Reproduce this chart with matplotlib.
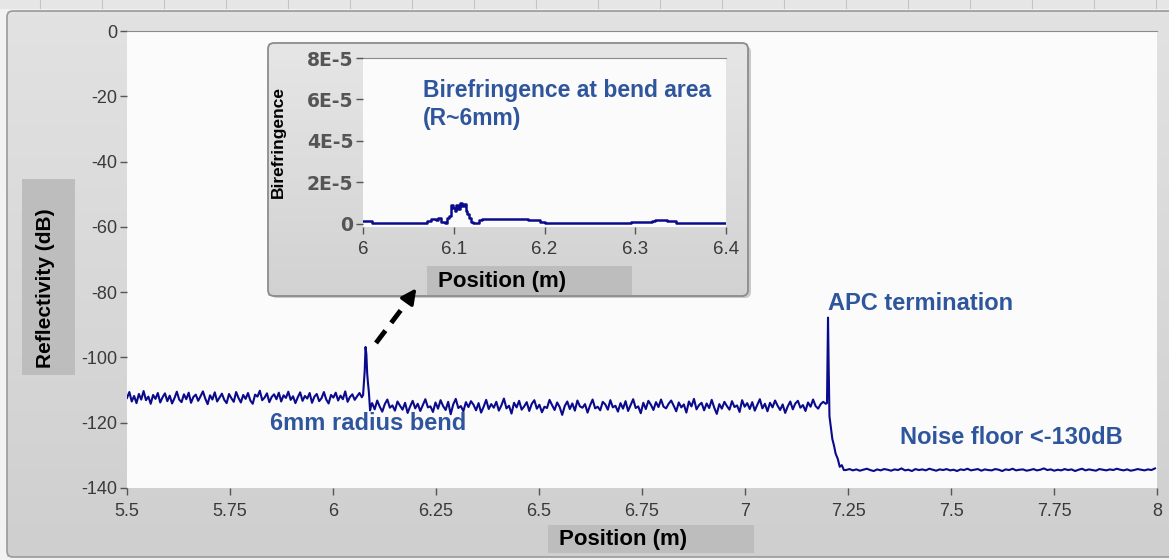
import numpy as np
import matplotlib
matplotlib.use("Agg")
import matplotlib.pyplot as plt
from matplotlib.patches import FancyBboxPatch, Rectangle
from matplotlib import font_manager

# ---- data ---------------------------------------------------------------
# main reflectivity trace (dB), pieced together by region
seg1_x = np.linspace(5.5, 6.07, 100)
seg1_y = [-112.4, -110.6, -113.5, -111.8, -114.0, -111.2, -112.9, -110.3, -113.1, -112.0,
          -114.2, -111.5, -112.7, -110.9, -113.8, -112.2, -111.0, -113.4, -111.7, -114.1,
          -112.5, -110.5, -112.9, -113.7, -111.3, -112.8, -110.8, -113.9, -112.1, -111.4,
          -113.3, -111.9, -110.4, -112.6, -114.3, -111.6, -112.9, -110.7, -113.5, -112.3,
          -111.1, -113.0, -114.0, -111.2, -112.5, -113.6, -110.6, -112.4, -113.8, -111.5,
          -112.7, -110.9, -113.2, -114.2, -111.4, -112.0, -110.2, -113.1, -112.3, -111.0,
          -113.7, -112.1, -111.3, -112.8, -110.8, -113.5, -111.6, -112.4, -110.5, -113.0,
          -111.9, -114.0, -112.2, -110.7, -113.3, -111.8, -112.6, -110.9, -113.9, -112.0,
          -111.2, -113.4, -112.5, -110.6, -112.9, -114.1, -111.5, -112.3, -110.8, -113.2,
          -111.7, -112.8, -110.4, -113.6, -112.1, -111.3, -113.0, -111.9, -110.9, -112.2]

bend_x = [6.073, 6.077, 6.079, 6.081, 6.083, 6.085, 6.087, 6.090, 6.093]
bend_y = [-111.5, -104.0, -96.8, -99.0, -105.0, -108.0, -110.5, -116.2, -114.5]

seg2_x = np.linspace(6.095, 7.196, 180)
seg2_y = [-114.0, -115.9, -113.2, -115.1, -116.6, -114.3, -112.9, -115.4, -114.7, -116.3,
          -113.5, -114.8, -116.0, -113.9, -117.0, -115.0, -113.3, -115.6, -114.2, -116.4,
          -114.6, -112.8, -115.3, -115.0, -116.7, -113.8, -115.7, -113.1, -114.9, -116.1,
          -113.6, -117.4, -114.4, -112.7, -115.5, -114.9, -116.5, -113.7, -115.2, -113.4,
          -114.5, -116.2, -114.0, -116.9, -115.1, -113.0, -115.8, -114.3, -115.4, -113.6,
          -116.3, -114.7, -112.6, -115.6, -114.8, -117.2, -113.9, -115.3, -113.3, -116.0,
          -115.0, -113.7, -116.4, -114.2, -113.1, -115.7, -114.5, -116.8, -115.1, -115.5,
          -113.0, -114.6, -116.1, -113.8, -115.2, -117.6, -114.9, -113.5, -115.8, -114.1,
          -116.3, -113.2, -115.0, -115.4, -114.3, -116.9, -114.7, -112.9, -115.6, -115.1,
          -116.2, -113.6, -114.4, -116.0, -113.1, -115.3, -114.8, -116.6, -114.0, -115.7,
          -113.4, -116.4, -114.6, -112.8, -115.5, -115.0, -117.1, -113.9, -115.8, -113.3,
          -114.5, -116.1, -113.7, -115.2, -112.9, -115.1, -115.6, -114.2, -113.2, -114.8,
          -116.5, -113.8, -115.3, -114.4, -116.9, -113.5, -115.0, -112.7, -115.9, -114.6,
          -113.9, -116.2, -114.1, -115.5, -113.0, -115.4, -117.3, -114.3, -115.7, -113.6,
          -114.9, -116.0, -113.4, -115.2, -114.7, -116.7, -113.1, -115.1, -114.0, -115.8,
          -113.7, -116.3, -114.5, -112.8, -115.6, -114.2, -116.5, -113.9, -115.3, -113.2,
          -114.8, -116.1, -114.4, -117.0, -115.0, -113.5, -115.9, -114.1, -113.3, -115.4,
          -114.6, -116.4, -113.8, -115.1, -112.9, -114.9, -115.7, -114.3, -113.6, -114.2]

apc_x = [7.199, 7.2015, 7.203, 7.205, 7.208, 7.212, 7.216, 7.220, 7.225, 7.230, 7.235, 7.240]
apc_y = [-114.0, -87.8, -102.0, -118.0, -121.0, -125.0, -127.0, -129.5, -131.0, -133.5, -133.0, -134.5]

seg3_x = np.linspace(7.245, 7.995, 90)
seg3_y = [-134.5, -134.2, -134.6, -134.3, -134.7, -134.4, -134.1, -134.5, -134.8, -134.3,
          -134.6, -134.2, -134.4, -134.7, -134.3, -134.5, -134.0, -134.6, -134.4, -134.8,
          -134.2, -134.5, -134.3, -134.6, -134.1, -134.4, -134.7, -134.3, -134.5, -134.2,
          -134.6, -134.4, -134.8, -134.3, -134.5, -134.1, -134.6, -134.4, -134.2, -134.7,
          -134.3, -134.5, -134.6, -134.2, -134.4, -134.8, -134.3, -134.5, -134.1, -134.6,
          -134.4, -134.3, -134.7, -134.5, -134.2, -134.6, -134.4, -134.0, -134.5, -134.3,
          -134.7, -134.4, -134.6, -134.2, -134.5, -134.3, -134.8, -134.4, -134.1, -134.6,
          -134.3, -134.5, -134.7, -134.2, -134.4, -134.6, -134.3, -134.5, -134.1, -134.4,
          -134.6, -134.3, -134.7, -134.5, -134.2, -134.4, -134.6, -134.3, -134.5, -134.0]

main_xticks = [5.5, 5.75, 6, 6.25, 6.5, 6.75, 7, 7.25, 7.5, 7.75, 8]
main_xlabels = ["5.5", "5.75", "6", "6.25", "6.5", "6.75", "7", "7.25", "7.5", "7.75", "8"]
main_yticks = [0, -20, -40, -60, -80, -100, -120, -140]

# inset birefringence trace (units of 1e-5)
bire_x = [6.000, 6.003, 6.010, 6.040, 6.065, 6.070, 6.075, 6.080, 6.083, 6.086, 6.090,
          6.093, 6.095, 6.097, 6.099, 6.101, 6.103, 6.105, 6.107, 6.109, 6.111, 6.113,
          6.115, 6.117, 6.119, 6.121, 6.125, 6.128, 6.131, 6.150, 6.175, 6.182, 6.190,
          6.195, 6.200, 6.250, 6.290, 6.295, 6.300, 6.318, 6.322, 6.330, 6.335, 6.345,
          6.370, 6.400]
bire_y = [0.15, 0.15, 0.05, 0.05, 0.05, 0.15, 0.25, 0.2, 0.3, 0.1, 0.05,
          0.3, 0.4, 0.9, 0.75, 0.6, 0.9, 0.7, 1.0, 0.85, 0.95, 0.6,
          0.5, 0.3, 0.1, 0.05, 0.05, 0.2, 0.25, 0.25, 0.25, 0.2, 0.18,
          0.1, 0.02, 0.02, 0.02, 0.1, 0.1, 0.12, 0.2, 0.18, 0.12, 0.05,
          0.02, 0.02]
inset_xticks = [6, 6.1, 6.2, 6.3, 6.4]
inset_xlabels = ["6", "6.1", "6.2", "6.3", "6.4"]
inset_yticks = [0, 2, 4, 6, 8]
inset_ylabels = ["0", "2E-5", "4E-5", "6E-5", "8E-5"]

# ---- style ----------------------------------------------------------------
W, H = 1169, 560
LINE = "#0a0a8c"
NOTE = "#2f569c"
TICK = "#3a3a3a"
names = {f.name for f in font_manager.fontManager.ttflist}
SANS = "Liberation Sans" if "Liberation Sans" in names else "DejaVu Sans"
plt.rcParams["font.family"] = [SANS, "DejaVu Sans"]
plt.rcParams["axes.unicode_minus"] = False


def px_axes(fig, x0, y0, x1, y1, **kw):
    return fig.add_axes([x0 / W, 1 - y1 / H, (x1 - x0) / W, (y1 - y0) / H], **kw)


fig = plt.figure(figsize=(W / 100, H / 100), dpi=100)
fig.patch.set_facecolor("#f2f2f2")

# background panel in pixel coordinates
bg = fig.add_axes([0, 0, 1, 1], zorder=0)
bg.set_xlim(0, W)
bg.set_ylim(H, 0)
bg.axis("off")
bg.add_patch(Rectangle((0, 0), W, 9, color="#e6e6e6", lw=0))
for tx in range(40, W, 62):
    bg.plot([tx, tx], [0, 8], color="#c4c4c4", lw=0.8)
grad = np.linspace(0, 1, 100).reshape(-1, 1)
bg.imshow(grad, cmap=matplotlib.colors.LinearSegmentedColormap.from_list("g", ["#e2e2e2", "#cfcfcf"]),
          extent=(7, 1169, 557, 11), aspect="auto", zorder=1)
bg.add_patch(FancyBboxPatch((7, 11), 1170, 546, boxstyle="round,pad=0,rounding_size=6",
                            fc="none", ec="#9a9a9a", lw=1.2, zorder=2))
bg.add_patch(Rectangle((22, 179), 53, 196, color="#bdbdbd", lw=0, zorder=3))
bg.text(46, 288, "Reflectivity (dB)", rotation=90, ha="center", va="center",
        fontsize=15, fontweight="bold", color="black", zorder=4)
bg.add_patch(Rectangle((548, 525), 206, 28, color="#bdbdbd", lw=0, zorder=3))
bg.text(559, 540, "Position (m)", ha="left", va="center",
        fontsize=16, fontweight="bold", color="black", zorder=4)

# main reflectivity plot
ax = px_axes(fig, 127, 31, 1157, 488, zorder=1)
ax.set_facecolor("#fbfbfb")
x_all = np.concatenate([seg1_x, bend_x, seg2_x, apc_x, seg3_x])
y_all = np.concatenate([seg1_y, bend_y, seg2_y, apc_y, seg3_y])
ax.plot(x_all, y_all, color=LINE, lw=1.5)
ax.set_xlim(5.5, 8)
ax.set_ylim(-140, 0)
ax.set_xticks(main_xticks)
ax.set_xticklabels(main_xlabels)
ax.set_yticks(main_yticks)
ax.tick_params(axis="both", colors="#555555", labelcolor=TICK, labelsize=13,
               length=5, width=1, direction="out", pad=2)
ax.tick_params(axis="x", pad=6)
for s in ["left", "bottom", "right"]:
    ax.spines[s].set_visible(False)
ax.spines["top"].set_color("#8a8a8a")

# overlay for the inset frame, notes and arrow
ov = fig.add_axes([0, 0, 1, 1], zorder=2)
ov.set_xlim(0, W)
ov.set_ylim(H, 0)
ov.axis("off")
ov.patch.set_alpha(0)
ov.add_patch(FancyBboxPatch((271, 46), 480, 252, boxstyle="round,pad=0,rounding_size=6",
                            fc="#a8a8a8", ec="none", alpha=0.6))
ig = np.linspace(0, 1, 100).reshape(-1, 1)
ov.imshow(ig, cmap=matplotlib.colors.LinearSegmentedColormap.from_list("g2", ["#e6e6e6", "#d2d2d2"]),
          extent=(268, 748, 296, 43), aspect="auto", zorder=2)
ov.add_patch(FancyBboxPatch((268, 43), 480, 253, boxstyle="round,pad=0,rounding_size=6",
                            fc="none", ec="#8c8c8c", lw=1.3, zorder=3))
ov.add_patch(Rectangle((427, 266), 205, 29, color="#bdbdbd", lw=0, zorder=3))
ov.text(438, 282, "Position (m)", ha="left", va="center",
        fontsize=16, fontweight="bold", color="black", zorder=4)
ov.text(278, 142, "Birefringence", rotation=90, ha="center", va="center",
        fontsize=12.5, fontweight="bold", color="black", zorder=4)

ov.text(270, 424, "6mm radius bend", ha="left", va="center",
        fontsize=17, fontweight="bold", color=NOTE)
ov.text(828, 304, "APC termination", ha="left", va="center",
        fontsize=17, fontweight="bold", color=NOTE)
ov.text(900, 438, "Noise floor <-130dB", ha="left", va="center",
        fontsize=17, fontweight="bold", color=NOTE)

ov.plot([376, 410], [343, 298], color="black", lw=3.5, linestyle=(0, (3.2, 2.0)),
        solid_capstyle="butt", dash_capstyle="butt")
ov.annotate("", xy=(418, 286), xytext=(408, 300),
            arrowprops=dict(arrowstyle="-|>,head_length=0.9,head_width=0.45",
                            color="black", lw=2.5))

# inset birefringence plot
ia = px_axes(fig, 363, 58, 726, 227, zorder=3)
ia.set_facecolor("#fbfbfb")
ia.step(bire_x, bire_y, where="post", color=LINE, lw=1.8)
ia.set_xlim(6, 6.4)
ia.set_ylim(-0.15, 8)
ia.set_xticks(inset_xticks)
ia.set_xticklabels(inset_xlabels)
ia.set_yticks(inset_yticks)
ia.set_yticklabels(inset_ylabels, fontfamily="DejaVu Sans", fontweight="bold",
                   fontsize=13.5, color="black")
ia.tick_params(axis="x", colors="#555555", labelcolor=TICK, labelsize=13.5,
               length=5, width=1, pad=5)
ia.tick_params(axis="y", colors="#555555", length=5, width=1, pad=2)
for s in ["left", "bottom", "right"]:
    ia.spines[s].set_visible(False)
ia.spines["top"].set_color("#8a8a8a")
ia.text(423, 91, "Birefringence at bend area", transform=ov.transData, ha="left",
        va="center", fontsize=16.5, fontweight="bold", color=NOTE, clip_on=False)
ia.text(423, 118, "(R~6mm)", transform=ov.transData, ha="left",
        va="center", fontsize=16.5, fontweight="bold", color=NOTE, clip_on=False)

fig.savefig("out.png", dpi=100, facecolor=fig.get_facecolor())
